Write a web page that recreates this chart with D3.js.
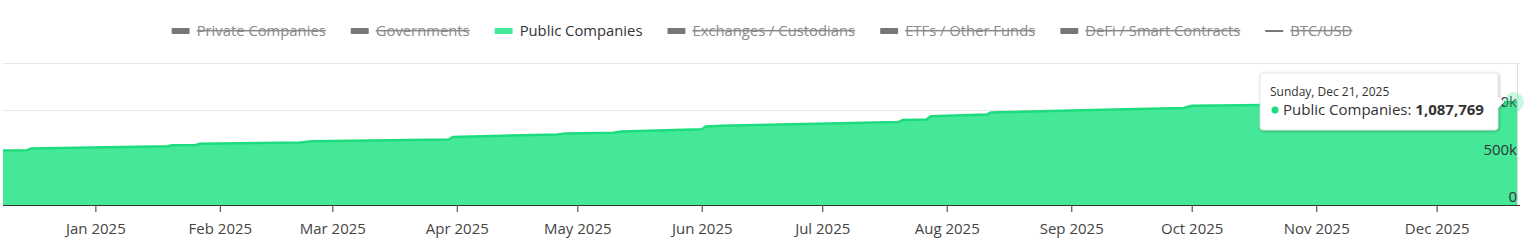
<!DOCTYPE html>
<html>
<head>
<meta charset="utf-8">
<script src="https://cdn.jsdelivr.net/npm/d3@7"></script>
<style>
  html, body { margin: 0; padding: 0; background: #fff; }
  svg { display: block; font-family: "Open Sans", sans-serif; }
</style>
</head>
<body>
<svg id="chart" width="1536" height="252"></svg>
<script>
// legend entries, only Public Companies is switched on
const legendNames = ["Private Companies", "Governments", "Public Companies", "Exchanges / Custodians",
                     "ETFs / Other Funds", "DeFi / Smart Contracts", "BTC/USD"];
const legendVisible = [false, false, true, false, false, false, false];

// Public Companies BTC holdings
const dates = ["2024-12-09","2024-12-15","2024-12-16","2025-01-19","2025-01-20","2025-01-26","2025-01-27",
               "2025-02-21","2025-02-24","2025-03-30","2025-03-31","2025-04-26","2025-04-28","2025-05-10",
               "2025-05-12","2025-06-01","2025-06-02","2025-06-06","2025-07-20","2025-07-21","2025-07-27",
               "2025-07-28","2025-08-11","2025-08-12","2025-09-01","2025-09-12","2025-09-29","2025-10-01",
               "2025-10-19","2025-11-03","2025-11-17","2025-12-01","2025-12-08","2025-12-15","2025-12-21"];
const holdings = [576000, 579000, 597000, 620000, 630000, 634000, 646000,
                  660000, 674000, 692000, 718000, 746000, 755000, 763000,
                  776000, 800000, 829000, 838000, 876000, 899000, 903000,
                  938000, 957000, 978000, 997000, 1008000, 1024000, 1048000,
                  1057000, 1062000, 1068000, 1074000, 1079000, 1083000, 1087769];

const yTicks = [0, 500000, 1000000, 1500000];
const yLabels = ["0", "500k", "1000k", ""];

const green = "#45e899";
const greenLine = "#1ddc7e";

const parse = d3.utcParse("%Y-%m-%d");
const data = dates.map((d, i) => ({ date: parse(d), value: holdings[i] }));

const svg = d3.select("#chart");
const plot = { left: 3, right: 1517, top: 63, bottom: 205 };

const x = d3.scaleUtc()
    .domain(d3.extent(data, d => d.date))
    .range([plot.left, plot.right]);

const y = d3.scaleLinear()
    .domain([0, 1500000])
    .range([plot.bottom, plot.top]);

// grid
svg.append("g")
    .selectAll("line")
    .data(yTicks)
    .enter()
    .append("line")
    .attr("x1", plot.left)
    .attr("x2", 1520)
    .attr("y1", d => Math.round(y(d)) + 0.5)
    .attr("y2", d => Math.round(y(d)) + 0.5)
    .attr("stroke", "#e6e6e6");

// crosshair at hovered point
const last = data[data.length - 1];
svg.append("line")
    .attr("x1", Math.round(x(last.date)) + 0.5)
    .attr("x2", Math.round(x(last.date)) + 0.5)
    .attr("y1", plot.top)
    .attr("y2", plot.bottom)
    .attr("stroke", "#dcdcdc");

// area + line
const area = d3.area()
    .x(d => x(d.date))
    .y0(y(0))
    .y1(d => y(d.value));

const line = d3.line()
    .x(d => x(d.date))
    .y(d => y(d.value));

svg.append("path")
    .datum(data)
    .attr("d", area)
    .attr("fill", green);

svg.append("path")
    .datum(data)
    .attr("d", line)
    .attr("fill", "none")
    .attr("stroke", greenLine)
    .attr("stroke-width", 2.5);

// y labels, right aligned inside plot, sitting above their grid line
svg.append("g")
    .selectAll("text")
    .data(yTicks)
    .enter()
    .append("text")
    .attr("x", 1517)
    .attr("y", d => y(d) - 3)
    .attr("text-anchor", "end")
    .attr("font-size", 15)
    .attr("fill", "#333")
    .text((d, i) => yLabels[i]);

// x axis
const xAxis = d3.axisBottom(x)
    .ticks(d3.utcMonth.every(1))
    .tickFormat(d3.utcFormat("%b %Y"))
    .tickSize(7)
    .tickPadding(11);

const gx = svg.append("g")
    .attr("transform", `translate(0,${plot.bottom})`)
    .call(xAxis);
gx.select(".domain").attr("stroke", "#333").attr("d", `M${plot.left},0.5H1520`);
gx.selectAll(".tick line").attr("stroke", "#555").attr("stroke-width", 1.2);
gx.selectAll(".tick text")
    .attr("font-family", "Open Sans, sans-serif")
    .attr("font-size", 15)
    .attr("fill", "#444");

// hover marker
svg.append("circle")
    .attr("cx", x(last.date) - 3)
    .attr("cy", y(last.value))
    .attr("r", 10)
    .attr("fill", green)
    .attr("opacity", 0.3);

// legend
const legend = svg.append("g");
let lx = 0;
legendNames.forEach((name, i) => {
    const g = legend.append("g");
    if (i === legendNames.length - 1) {
        g.append("rect").attr("x", 0).attr("y", -1).attr("width", 18).attr("height", 2)
            .attr("fill", legendVisible[i] ? "#333" : "#777");
    } else {
        g.append("rect").attr("x", 0).attr("y", -3).attr("width", 18).attr("height", 6).attr("rx", 1)
            .attr("fill", legendVisible[i] ? green : "#777");
    }
    const t = g.append("text")
        .attr("x", 25)
        .attr("y", 5)
        .attr("font-size", 14.8)
        .attr("fill", legendVisible[i] ? "#333" : "#8a8a8a")
        .attr("text-decoration", legendVisible[i] ? null : "line-through")
        .text(name);
    const w = 25 + t.node().getComputedTextLength();
    g.attr("transform", `translate(${lx},31)`);
    lx += w + 25;
});
const legendWidth = lx - 25;
legend.attr("transform", `translate(${762 - legendWidth / 2},0)`);

// tooltip
const tip = svg.append("g").attr("transform", "translate(1260,73)");
const tw = 238, th = 57;
const defs = svg.append("defs");
const f = defs.append("filter").attr("id", "shadow").attr("x", -0.1).attr("y", -0.2).attr("width", 1.2).attr("height", 1.5);
f.append("feDropShadow").attr("dx", 1).attr("dy", 1).attr("stdDeviation", 1.5).attr("flood-color", "#000").attr("flood-opacity", 0.25);
tip.append("path")
    .attr("d", `M3,0H${tw - 3}Q${tw},0 ${tw},3V${29 - 6}L${tw + 6},29L${tw},${29 + 6}V${th - 3}Q${tw},${th} ${tw - 3},${th}H3Q0,${th} 0,${th - 3}V3Q0,0 3,0Z`)
    .attr("fill", "#fff")
    .attr("stroke", "#e0e0e0")
    .attr("stroke-width", 0.8)
    .attr("filter", "url(#shadow)");
tip.append("text")
    .attr("x", 10)
    .attr("y", 23)
    .attr("font-size", 12)
    .attr("fill", "#333")
    .text(d3.utcFormat("%A, %b %-d, %Y")(last.date));
tip.append("circle").attr("cx", 15).attr("cy", 37).attr("r", 3.5).attr("fill", greenLine);
const t2 = tip.append("text")
    .attr("x", 23)
    .attr("y", 42)
    .attr("font-size", 15)
    .attr("fill", "#333");
t2.append("tspan").text("Public Companies: ");
t2.append("tspan").attr("font-weight", "bold").text(d3.format(",")(last.value));
</script>
</body>
</html>
